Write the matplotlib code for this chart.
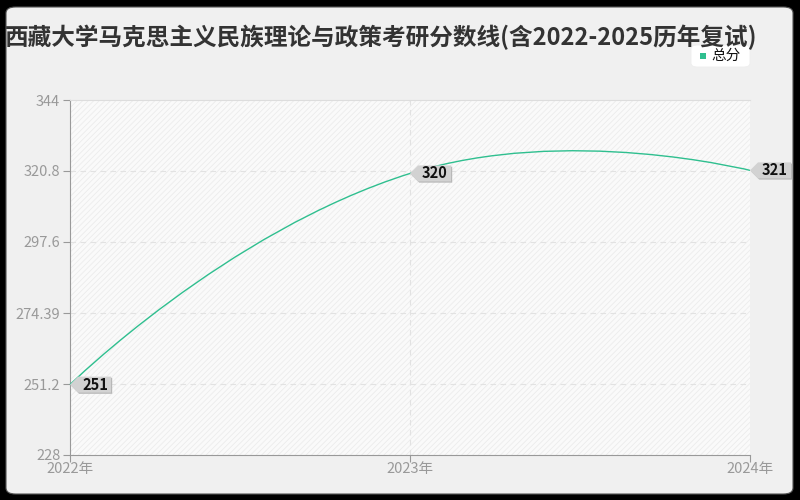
import numpy as np
import matplotlib
matplotlib.use("Agg")
import matplotlib.pyplot as plt
from matplotlib.patches import FancyBboxPatch, Polygon, PathPatch
from matplotlib.path import Path
import matplotlib.transforms as mtrans

plt.rcParams['font.family'] = ['Noto Sans CJK SC', 'DejaVu Sans']
plt.rcParams['hatch.color'] = "#ececec"
plt.rcParams['hatch.linewidth'] = 0.6

# data
years = ["2022年", "2023年", "2024年"]
scores = [251, 320, 321]
yticks = [228, 251.2, 274.39, 297.6, 320.8, 344]
title = "西藏大学马克思主义民族理论与政策考研分数线(含2022-2025历年复试)"
series_name = "总分"
line_color = "#2fbf8f"

fig = plt.figure(figsize=(8, 5), dpi=100)
fig.patch.set_facecolor("black")
# rounded light panel
panel = FancyBboxPatch((6 / 800, 6 / 500), 787 / 800, 487 / 500,
                       boxstyle="round,pad=0,rounding_size=0.012",
                       transform=fig.transFigure, facecolor="#f0f0f0",
                       edgecolor="#555555", linewidth=0.8, zorder=-10)
fig.patches.append(panel)

ax = fig.add_axes([70 / 800, 45 / 500, 680 / 800, 355 / 500])
ax.set_zorder(1)
ax.set_facecolor("#fafafa")
ax.add_patch(plt.Rectangle((0, 0), 1, 1, transform=ax.transAxes, facecolor="none",
                           edgecolor="#ececec", hatch="//////", linewidth=0, zorder=0))

x = np.arange(len(years))
ax.set_xlim(0, 2)
ax.set_ylim(228, 344)

ax.spines["right"].set_visible(False)
ax.spines["top"].set_color("#dddddd")
ax.spines["left"].set_color("#999999")
ax.spines["bottom"].set_color("#999999")
ax.set_yticks(yticks)
ax.set_yticklabels([f"{v:g}" for v in yticks], color="#999999", fontsize=10.5)
ax.set_xticks(x)
ax.set_xticklabels(years, color="#999999", fontsize=10.5)
ax.tick_params(axis="y", length=5, color="#999999", pad=2)
ax.tick_params(axis="x", length=5, color="#999999", pad=0)
for v in yticks[1:-1]:
    ax.axhline(v, color="#e2e2e2", lw=0.8, ls=(0, (5, 4)), zorder=1)
ax.axvline(1, color="#e2e2e2", lw=0.8, ls=(0, (5, 4)), zorder=1)

# smooth line like echarts (bezier, smooth 0.5, computed in pixel space)
fig.canvas.draw()
pts = ax.transData.transform(np.column_stack([x, scores]))
smooth = 0.5
verts = [tuple(pts[0])]
codes = [Path.MOVETO]
n = len(pts)
cps = []
for i in range(n):
    p = pts[i]
    if i == 0 or i == n - 1:
        cps.append((p, p))
        continue
    prev, nxt = pts[i - 1], pts[i + 1]
    v = nxt - prev
    d0 = np.hypot(*(p - prev))
    d1 = np.hypot(*(p - nxt))
    s = d0 + d1
    cps.append((p - v * smooth * d0 / s, p + v * smooth * d1 / s))
for i in range(n - 1):
    verts += [tuple(cps[i][1]), tuple(cps[i + 1][0]), tuple(pts[i + 1])]
    codes += [Path.CURVE4] * 3
inv = ax.transData.inverted()
verts_data = inv.transform(np.array(verts))
ax.add_patch(PathPatch(Path(verts_data, codes), facecolor="none", edgecolor=line_color,
                       lw=1.0, zorder=3, clip_on=False))

# tag-shaped value labels (sizes in pixels)
w, h, tip = 41, 8, 8
shape = np.array([(0, 0), (tip, h), (w, h), (w, -h), (tip, -h)])
for xi, yi in zip(x, scores):
    dp = ax.transData.transform((xi, yi))
    shadow = Polygon(shape + [1.2, -1.2], closed=True,
                     transform=mtrans.Affine2D().translate(dp[0], dp[1]),
                     facecolor="#b8b8b8", edgecolor="none", zorder=4, clip_on=False)
    ax.add_patch(shadow)
    poly = Polygon(shape, closed=True,
                   transform=mtrans.Affine2D().translate(dp[0], dp[1]),
                   facecolor="#d2d2d2", edgecolor="none", zorder=4, clip_on=False)
    ax.add_patch(poly)
    ax.annotate(str(yi), (xi, yi), xytext=(12 * 0.72, 0), textcoords="offset points",
                ha="left", va="center", fontsize=10.5, color="#111111",
                fontweight="bold", zorder=5, annotation_clip=False)

# title
fig.text(757 / 800, 1 - 37 / 500, title, ha="right", va="center", fontsize=17,
         color="#333333", fontweight="bold")

# legend
leg = FancyBboxPatch((691 / 800, 1 - 67 / 500), 59 / 800, 22 / 500,
                     boxstyle="round,pad=0,rounding_size=0.008",
                     transform=fig.transFigure, facecolor="white",
                     edgecolor="#eeeeee", linewidth=0.6, zorder=2)
fig.patches.append(leg)
fig.patches.append(plt.Rectangle((700 / 800, 1 - 59 / 500), 6 / 800, 6 / 500,
                                 transform=fig.transFigure, facecolor=line_color,
                                 edgecolor="none", zorder=3))
fig.text(711 / 800, 1 - 56 / 500, series_name, ha="left", va="center", fontsize=10.5,
         color="#111111")

fig.savefig("out.png", dpi=100, facecolor=fig.get_facecolor())
